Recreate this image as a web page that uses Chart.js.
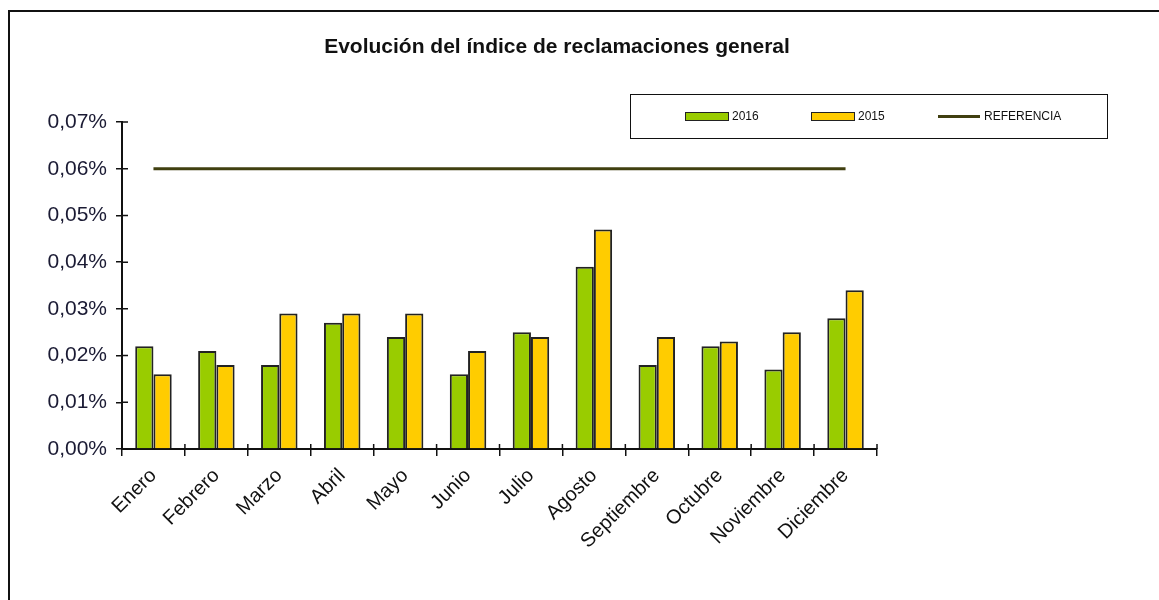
<!DOCTYPE html>
<html>
<head>
<meta charset="utf-8">
<script src="https://cdn.jsdelivr.net/npm/chart.js@4.4.1/dist/chart.umd.min.js"></script>
<style>
  body { margin: 0; background: #fff; font-family: "Liberation Sans", Arial, sans-serif; }
  #wrap { position: relative; width: 1159px; height: 600px; overflow: hidden; }
  #frame { position: absolute; left: 8px; top: 10px; width: 1160px; height: 600px;
           border-top: 2px solid #111; border-left: 2px solid #111; box-sizing: border-box; }
  #title { position: absolute; left: 0; width: 1114px; top: 34px; text-align: center;
           font-weight: bold; font-size: 21px; color: #111; }
  #legend { position: absolute; left: 630px; top: 94px; width: 478px; height: 45px;
            border: 1.5px solid #111; box-sizing: border-box; font-size: 12px; color: #111; }
  .item { position: absolute; top: 14px; display: flex; align-items: center; }
  .sw { width: 42px; height: 7px; border: 1.5px solid #222; margin-right: 3px; }
  .ln { width: 42px; height: 3px; background: #403f10; margin-right: 4px; }
  canvas { position: absolute; left: 0; top: 0; }
</style>
</head>
<body>
<div id="wrap">
  <div id="frame"></div>
  <canvas id="chart" width="1159" height="600"></canvas>
  <div id="title">Evolución del índice de reclamaciones general</div>
  <div id="legend"></div>
</div>
<script>
const months = ["Enero", "Febrero", "Marzo", "Abril", "Mayo", "Junio", "Julio", "Agosto", "Septiembre", "Octubre", "Noviembre", "Diciembre"];
const values2016 = [0.022, 0.021, 0.018, 0.027, 0.024, 0.016, 0.025, 0.039, 0.018, 0.022, 0.017, 0.028];
const values2015 = [0.016, 0.018, 0.029, 0.029, 0.029, 0.021, 0.024, 0.047, 0.024, 0.023, 0.025, 0.034];
const referencia = [0.06, 0.06, 0.06, 0.06, 0.06, 0.06, 0.06, 0.06, 0.06, 0.06, 0.06, 0.06];
const yTicks = [0, 0.01, 0.02, 0.03, 0.04, 0.05, 0.06, 0.07];

const fmt = v => v.toFixed(2).replace(".", ",") + "%";

// legend drawn as html
const legendItems = [
  { label: "2016", color: "#99cc00", left: 54 },
  { label: "2015", color: "#ffcc00", left: 180 },
  { label: "REFERENCIA", line: true, left: 307 }
];
const legendEl = document.getElementById("legend");
legendItems.forEach(it => {
  const d = document.createElement("div");
  d.className = "item";
  d.style.left = it.left + "px";
  d.innerHTML = (it.line ? '<span class="ln"></span>' : '<span class="sw" style="background:' + it.color + '"></span>') + '<span>' + it.label + '</span>';
  legendEl.appendChild(d);
});

// little ticks on the inner side of the axes
const innerTicks = {
  id: "innerTicks",
  afterDraw(chart) {
    const ctx = chart.ctx;
    const x = chart.scales.x, y = chart.scales.y;
    ctx.save();
    ctx.strokeStyle = "#111";
    ctx.lineWidth = 1.5;
    ctx.beginPath();
    yTicks.forEach(v => {
      const py = y.getPixelForValue(v);
      ctx.moveTo(x.left, py);
      ctx.lineTo(x.left + 6, py);
    });
    for (let i = 0; i <= months.length; i++) {
      const px = x.left + (x.right - x.left) * i / months.length;
      ctx.moveTo(px, y.bottom);
      ctx.lineTo(px, y.bottom - 5);
    }
    ctx.stroke();
    ctx.restore();
  }
};

new Chart(document.getElementById("chart"), {
  data: {
    labels: months,
    datasets: [
      {
        type: "line",
        label: "REFERENCIA",
        data: referencia,
        borderColor: "#403f10",
        borderWidth: 3,
        pointRadius: 0,
        order: 0
      },
      {
        type: "bar",
        label: "2016",
        data: values2016,
        backgroundColor: "#99cc00",
        borderColor: "#222",
        borderWidth: 2,
        barPercentage: 1,
        categoryPercentage: 0.58,
        order: 1
      },
      {
        type: "bar",
        label: "2015",
        data: values2015,
        backgroundColor: "#ffcc00",
        borderColor: "#222",
        borderWidth: 2,
        barPercentage: 1,
        categoryPercentage: 0.58,
        order: 1
      }
    ]
  },
  options: {
    responsive: false,
    animation: false,
    layout: { padding: { left: 0, top: 122, right: 282, bottom: 0 } },
    plugins: {
      legend: { display: false },
      title: { display: false },
      tooltip: { enabled: false }
    },
    scales: {
      x: {
        afterFit: s => { s.height = 151; },
        grid: { offset: true, drawOnChartArea: false, color: "#111", lineWidth: 1.5, tickLength: 7 },
        border: { color: "#111", width: 2 },
        ticks: {
          color: "#111",
          font: { family: "Liberation Sans", size: 20 },
          maxRotation: 45,
          minRotation: 45,
          padding: 8
        }
      },
      y: {
        min: 0,
        max: 0.07,
        afterFit: s => { s.width = 122; },
        afterBuildTicks: s => { s.ticks = yTicks.map(v => ({ value: v })); },
        grid: { drawOnChartArea: false, color: "#111", lineWidth: 1.5, tickLength: 6 },
        border: { color: "#111", width: 2 },
        ticks: {
          color: "#1a1a33",
          font: { family: "Liberation Sans", size: 21 },
          padding: 9,
          callback: v => fmt(v)
        }
      }
    }
  },
  plugins: [innerTicks]
});
</script>
</body>
</html>
